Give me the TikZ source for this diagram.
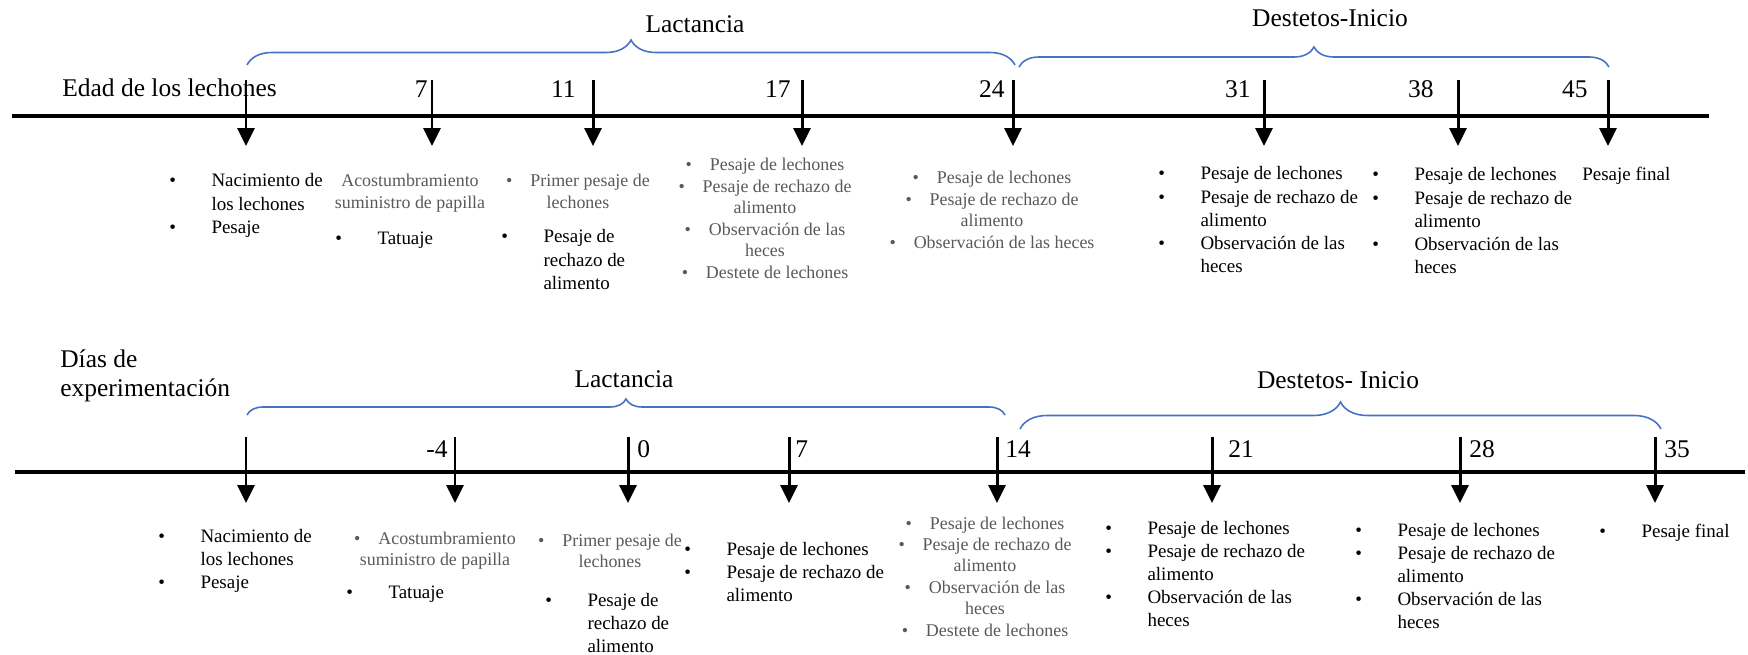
\documentclass[tikz,border=0pt]{standalone}
\usepackage{fontspec}
\setmainfont{Liberation Serif}
\usetikzlibrary{arrows.meta,decorations.pathreplacing}
\definecolor{azulllave}{RGB}{68,114,196}
\newcommand{\lista}[1]{\begin{tabular}[t]{@{}p{24pt}@{}l@{}}#1\end{tabular}}
\newcommand{\centro}[1]{\begin{tabular}[t]{@{}c@{}}#1\end{tabular}}

\tikzset{
	eje/.style={line width=2.2pt},
	flecha/.style={line width=1.7pt,-{Triangle[width=0.34cm,length=0.36cm]}},
	fase/.style={draw=azulllave,line width=0.9pt,decorate,decoration={brace,amplitude=#1}},
	titulo/.style={font=\fontsize{14.5}{17}\selectfont,inner sep=0pt},
	num/.style={font=\fontsize{14.5}{17}\selectfont,inner sep=0pt},
	evtxt/.style={font=\fontsize{10.8}{13.2}\selectfont,inner sep=0pt,anchor=base west},
	evgris/.style={font=\fontsize{10.2}{12.2}\selectfont,text=black!65,inner sep=0pt,anchor=base},
}

\begin{document}
\begin{tikzpicture}[x=0.02cm,y=-0.02cm]
	\useasboundingbox (0,0) rectangle (1748,655);

	% edad de los lechones
	\coordinate (ti) at (12,116);
	\coordinate (tf) at (1709,116);
	\draw[eje] (ti) -- (tf);
	\node[titulo,anchor=base west] (edad) at (62,97) {Edad de los lechones};
	\foreach \x [count=\i] in {246,432,593,802,1013,1264,1458,1608} {
		\coordinate (ea\i) at (\x,80);
		\coordinate (eb\i) at (\x,146);
		\draw[flecha] (ea\i) -- (eb\i);
	}
	\foreach \d/\x in {7/428,11/576,17/791,24/1005,31/1251,38/1434,45/1588} {
		\node[num,anchor=base east] (ne\d) at (\x,98) {\d};
	}
	\coordinate (la1) at (247,65);
	\coordinate (la2) at (1015,65);
	\coordinate (de1) at (1019,67);
	\coordinate (de2) at (1609,67);
	\draw[fase=0.5cm] (la1) -- (la2);
	\draw[fase=0.4cm] (de1) -- (de2);
	\node[titulo,anchor=base] (lact1) at (695,33) {Lactancia};
	\node[titulo,anchor=base] (dest1) at (1330,27) {Destetos-Inicio};

	\node[evtxt] (ta1) at (169,187) {\lista{\textbullet & Nacimiento de\\ & los lechones\\ \textbullet & Pesaje}};
	\node[evgris] (ta2) at (410,187) {\centro{Acostumbramiento\\suministro de papilla}};
	\node[evtxt] (ta2b) at (335,245) {\lista{\textbullet & Tatuaje}};
	\node[evgris] (ta3) at (578,187) {\centro{\textbullet\quad Primer pesaje de\\lechones}};
	\node[evtxt] (ta3b) at (501,243) {\lista{\textbullet & Pesaje de\\ & rechazo de\\ & alimento}};
	\node[evgris] (ta4) at (765,171) {\centro{\textbullet\quad Pesaje de lechones\\\textbullet\quad Pesaje de rechazo de\\alimento\\\textbullet\quad Observación de las\\heces\\\textbullet\quad Destete de lechones}};
	\node[evgris] (ta5) at (992,184) {\centro{\textbullet\quad Pesaje de lechones\\\textbullet\quad Pesaje de rechazo de\\alimento\\\textbullet\quad Observación de las heces}};
	\node[evtxt] (ta6) at (1158,180) {\lista{\textbullet & Pesaje de lechones\\ \textbullet & Pesaje de rechazo de\\ & alimento\\ \textbullet & Observación de las\\ & heces}};
	\node[evtxt] (ta7) at (1372,181) {\lista{\textbullet & Pesaje de lechones\\ \textbullet & Pesaje de rechazo de\\ & alimento\\ \textbullet & Observación de las\\ & heces}};
	\node[evtxt] (ta8) at (1582,181) {Pesaje final};

	% dias de experimentacion
	\coordinate (bi) at (15,472);
	\coordinate (bf) at (1745,472);
	\draw[eje] (bi) -- (bf);
	\node[titulo,anchor=base west] (dias) at (60,367) {\begin{tabular}[t]{@{}l@{}}Días de\\experimentación\end{tabular}};
	\foreach \x [count=\i] in {246,455,628,789,997,1212,1460,1655} {
		\coordinate (da\i) at (\x,437);
		\coordinate (db\i) at (\x,503);
		\draw[flecha] (da\i) -- (db\i);
	}
	\node[num,anchor=base east] (nd-4) at (448,457) {-4};
	\foreach \d/\x in {0/637,7/795,14/1005,21/1228,28/1469,35/1664} {
		\node[num,anchor=base west] (nd\d) at (\x,457) {\d};
	}
	\coordinate (lb1) at (247,415);
	\coordinate (lb2) at (1005,415);
	\coordinate (db1) at (1020,429);
	\coordinate (db2) at (1661,429);
	\draw[fase=0.32cm] (lb1) -- (lb2);
	\draw[fase=0.54cm] (db1) -- (db2);
	\node[titulo,anchor=base] (lact2) at (624,387) {Lactancia};
	\node[titulo,anchor=base] (dest2) at (1338,388) {Destetos- Inicio};

	\node[evtxt] (tb1) at (158,542) {\lista{\textbullet & Nacimiento de\\ & los lechones\\ \textbullet & Pesaje}};
	\node[evgris] (tb2) at (435,544) {\centro{\textbullet\quad Acostumbramiento\\suministro de papilla}};
	\node[evtxt] (tb2b) at (346,598) {\lista{\textbullet & Tatuaje}};
	\node[evgris] (tb3) at (610,546) {\centro{\textbullet\quad Primer pesaje de\\lechones}};
	\node[evtxt] (tb3b) at (545,606) {\lista{\textbullet & Pesaje de\\ & rechazo de\\ & alimento}};
	\node[evtxt] (tb4) at (684,555) {\lista{\textbullet & Pesaje de lechones\\ \textbullet & Pesaje de rechazo de\\ & alimento}};
	\node[evgris] (tb5) at (985,529) {\centro{\textbullet\quad Pesaje de lechones\\\textbullet\quad Pesaje de rechazo de\\alimento\\\textbullet\quad Observación de las\\heces\\\textbullet\quad Destete de lechones}};
	\node[evtxt] (tb6) at (1105,534) {\lista{\textbullet & Pesaje de lechones\\ \textbullet & Pesaje de rechazo de\\ & alimento\\ \textbullet & Observación de las\\ & heces}};
	\node[evtxt] (tb7) at (1355,536) {\lista{\textbullet & Pesaje de lechones\\ \textbullet & Pesaje de rechazo de\\ & alimento\\ \textbullet & Observación de las\\ & heces}};
	\node[evtxt] (tb8) at (1599,537) {\lista{\textbullet & Pesaje final}};
\end{tikzpicture}
\end{document}
